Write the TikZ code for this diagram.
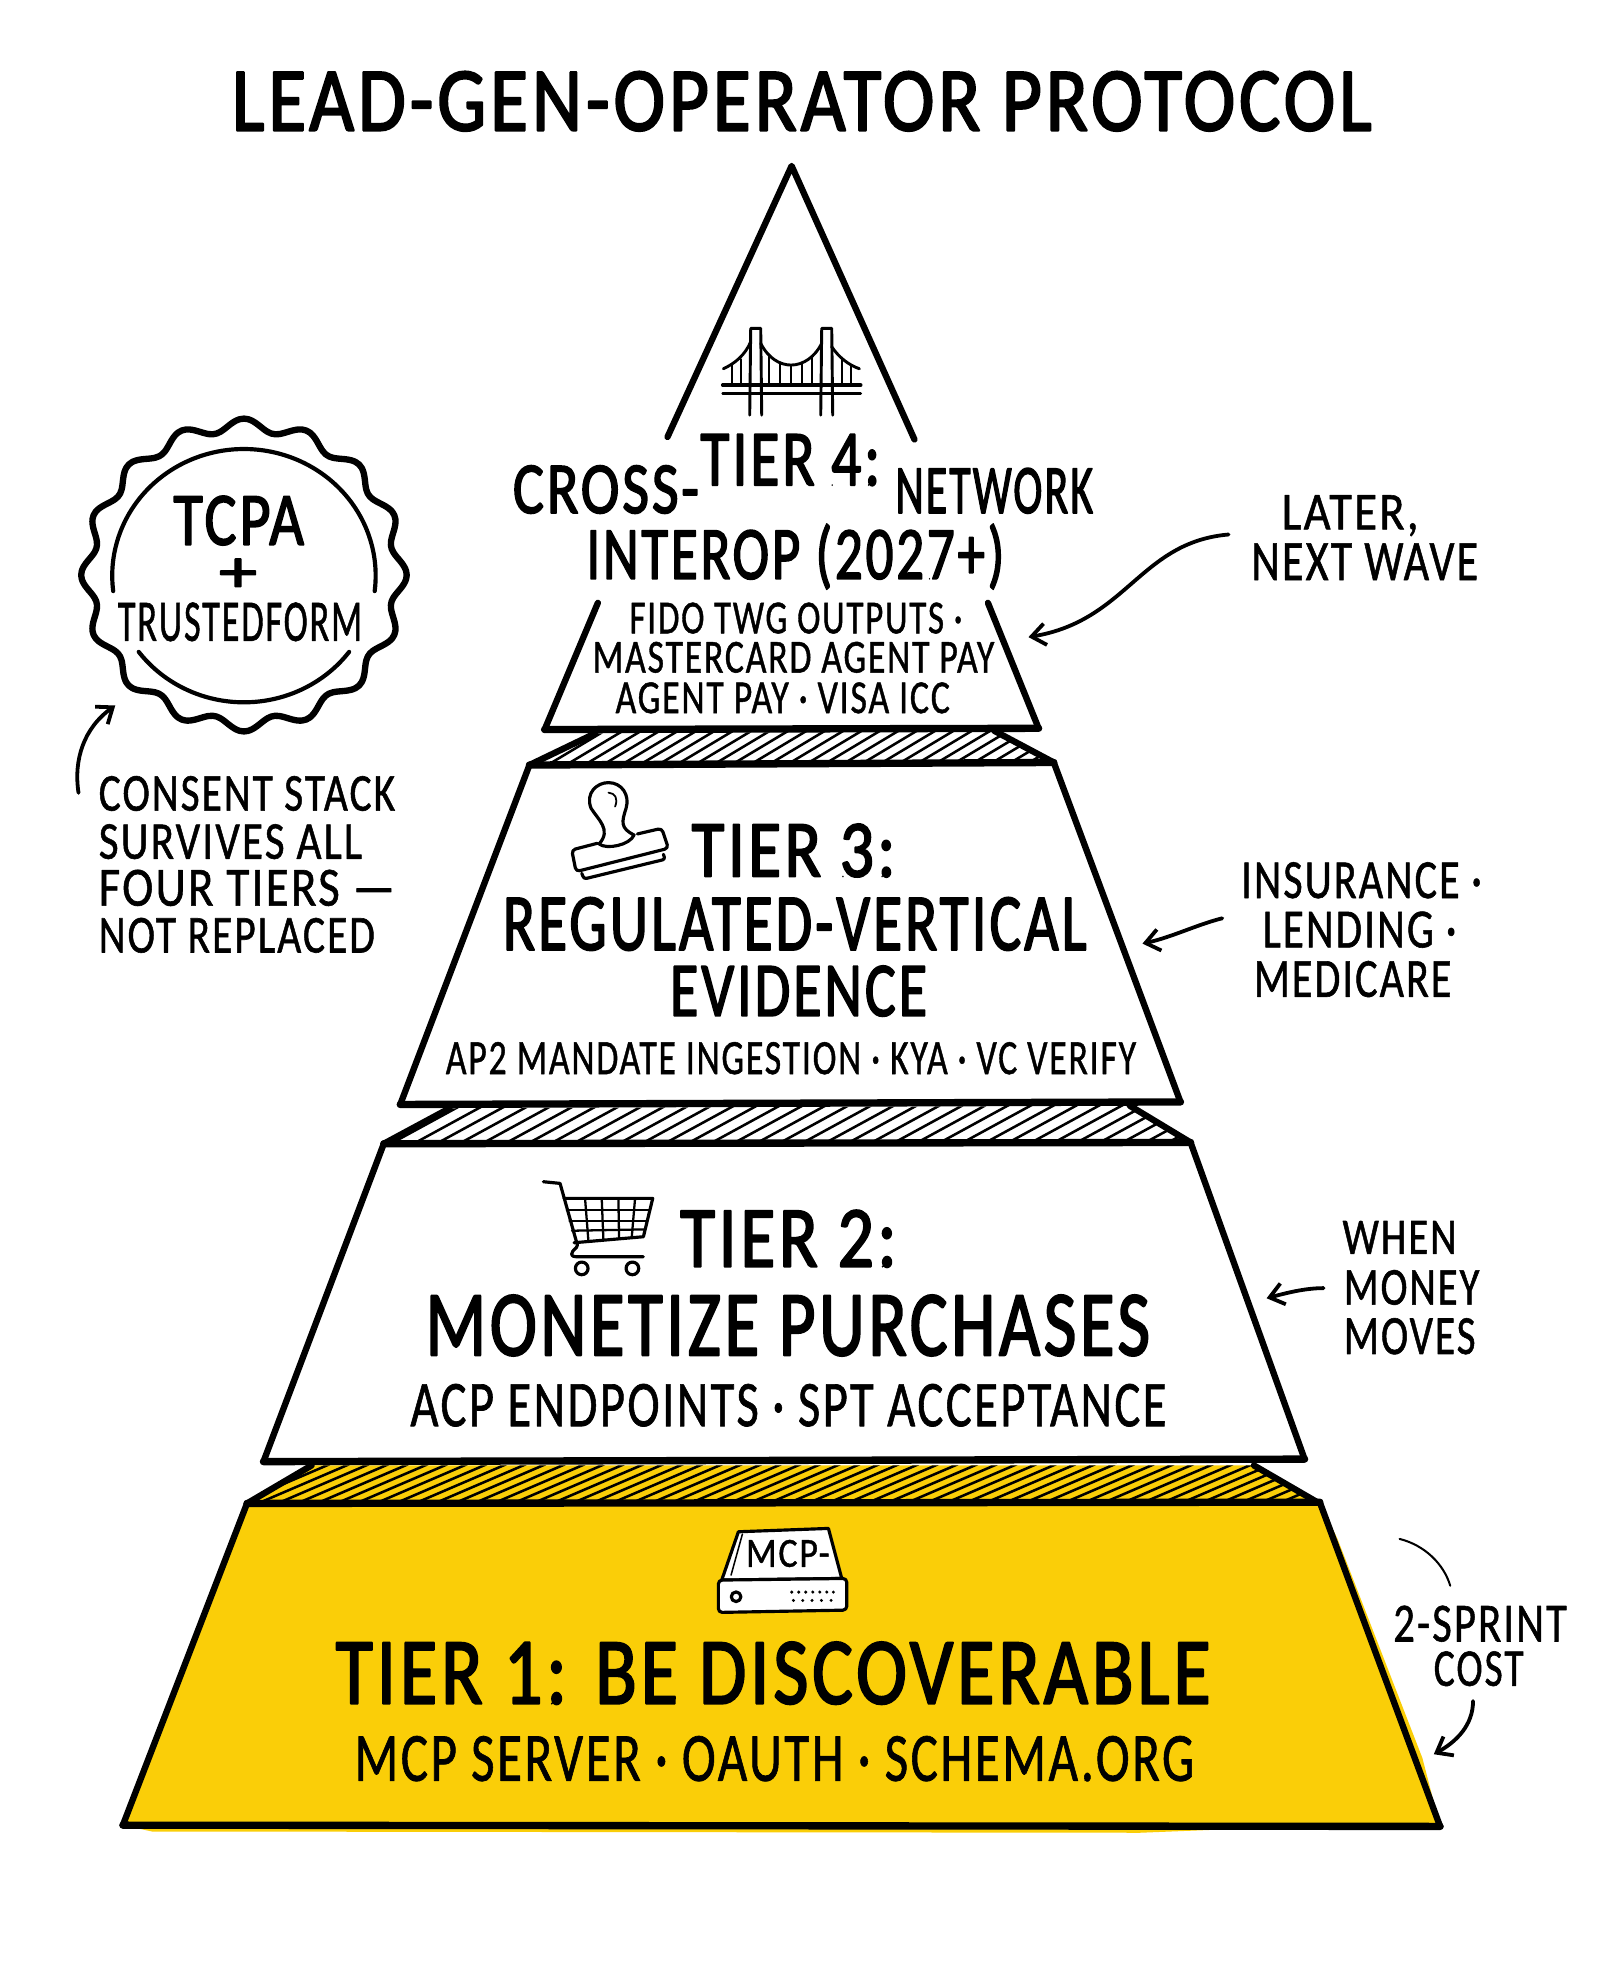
\documentclass[tikz,border=0pt]{standalone}
\usepackage{fontspec}
\usepackage{graphicx}
\usetikzlibrary{arrows.meta}
\newfontfamily\hfont{Carlito}[FakeBold=2.4,LetterSpace=5]
\newfontfamily\sfont{Carlito}[FakeBold=1.1,LetterSpace=5]
\definecolor{tieryellow}{HTML}{FACE08}
\tikzset{
 txt/.style={inner sep=0pt,outer sep=0pt,text=black},
 edge/.style={draw=black,line width=5pt,line join=round,line cap=round},
 base/.style={draw=black,line width=5.8pt,line cap=round},
 hatchline/.style={draw=black,line width=2pt},
 icon/.style={draw=black,line width=2.5pt,line join=round,line cap=round},
 callout/.style={draw=black,line width=3pt,line cap=round,-{Straight Barb[length=11pt,width=17pt,line width=3pt]}},
 plainline/.style={draw=black,line width=1.6pt,line cap=round},
 sealline/.style={draw=black,line width=3.3pt,line cap=round},
}
\newcommand\lab[7]{% name,x1,x2,y1,y2,font,text
 \pgfmathsetmacro\cxx{(#2+#3)/2}\pgfmathsetmacro\cyy{(#4+#5)/2}%
 \pgfmathsetmacro\wwd{#3-#2}\pgfmathsetmacro\hhd{#5-#4}%
 \node[txt] (#1) at (\cxx,\cyy) {\special{pdf:code 1 j 1 J}\resizebox{\wwd pt}{\hhd pt}{\fontsize{30}{36}#6\selectfont\sbox0{H}\raisebox{0pt}[\ht0][0pt]{#7}}};}
\begin{document}
\begin{tikzpicture}[x=1pt,y=-1pt]
\useasboundingbox (0,0) rectangle (1263.2,1568);
\fill[white] (0,0) rectangle (1263.2,1568);

% title
\lab{title}{183}{1083}{57}{103}{\hfont}{LEAD-GEN-OPERATOR PROTOCOL}

% ---- hatched bands
\begin{scope}
 \clip (470,579) -- (785,577) -- (832,602) -- (418,604) -- cycle;
 \foreach \i in {0,...,34} {\draw[hatchline] ({400+14.5*\i},606) -- ({450+14.5*\i},576);}
\end{scope}
\draw[edge] (470,579) -- (418,604);
\draw[edge] (785,577) -- (832,602);
\begin{scope}
 \clip (355,875) -- (892,873) -- (940,902) -- (303,903) -- cycle;
 \foreach \i in {0,...,50} {\draw[hatchline] ({285+18*\i},906) -- ({351+18*\i},870);}
\end{scope}
\draw[edge] (355,875) -- (303,903);
\draw[edge] (892,873) -- (940,902);
\fill[tieryellow] (246,1157) -- (990,1157) -- (1040,1186) -- (195,1187) -- cycle;
\begin{scope}
 \clip (246,1157) -- (990,1157) -- (1040,1186) -- (195,1187) -- cycle;
 \foreach \i in {0,...,70} {\draw[hatchline] ({150+15.5*\i},1190) -- ({234+15.5*\i},1154);}
\end{scope}
\draw[edge] (246,1157) -- (195,1187);
\draw[edge] (990,1157) -- (1040,1186);

% ---- tier 4
\coordinate (apex) at (625,131);
\coordinate (t4l) at (527,345);
\coordinate (t4r) at (722,347);
\coordinate (t4bl) at (430,576);
\coordinate (t4br) at (820,575);
\coordinate (t4ml) at (472,476);
\coordinate (t4mr) at (780,476);
\draw[edge] (t4l) -- (apex) -- (t4r);
\draw[edge] (t4ml) -- (t4bl);
\draw[edge] (t4mr) -- (t4br);
\draw[base] (t4bl) -- (t4br);
\lab{t4a}{553}{695}{343}{383}{\hfont}{TIER 4:}
\lab{t4b}{405}{552}{368}{405}{\hfont}{CROSS-}
\lab{t4c}{707}{863}{370}{405}{\hfont}{NETWORK}
\lab{t4d}{463}{793}{419}{457}{\hfont}{INTEROP (2027+)}
\lab{t4e}{497}{760}{476}{500}{\sfont}{FIDO TWG OUTPUTS ·}
\lab{t4f}{468}{785}{507}{531}{\sfont}{MASTERCARD AGENT PAY}
\lab{t4g}{486}{750}{539}{563}{\sfont}{AGENT PAY · VISA ICC}

% bridge
\begin{scope}[shift={(552.7,244.8)},x=.2632pt,y=-.2632pt,icon,line width=2.3pt]
 \foreach \tx in {152,365} {
  \draw (\tx-3,315) -- (\tx,55) -- (\tx+30,55) -- (\tx+33,315);
 }
 \draw (182,100) .. controls (205,145) and (240,165) .. (273,165) .. controls (310,165) and (345,140) .. (365,100);
 \draw (152,95) .. controls (135,135) and (105,160) .. (70,176);
 \draw (395,110) .. controls (415,140) and (445,165) .. (478,176);
 \draw[line width=2.8pt] (68,225) -- (482,225);
 \draw (68,251) -- (482,251);
 \foreach \hx/\hy in {95/165,122/148,207/140,240/158,272/165,305/158,335/143,425/148,452/165} {
  \draw[line width=1.9pt] (\hx,\hy) -- (\hx,225);
 }
\end{scope}

% ---- tier 3
\coordinate (t3a) at (418,604);
\coordinate (t3b) at (832,602);
\coordinate (t3c) at (932,870);
\coordinate (t3d) at (316,872);
\draw[edge] (t3a) -- (t3d);
\draw[edge] (t3b) -- (t3c);
\draw[base] (t3a) -- (t3b);
\draw[base] (t3d) -- (t3c);
\lab{t3t}{546}{707}{651}{692}{\hfont}{TIER 3:}
\lab{t3u}{397}{858}{709}{750}{\hfont}{REGULATED-VERTICAL}
\lab{t3v}{529}{732}{763}{802}{\hfont}{EVIDENCE}
\lab{t3w}{352}{897}{823}{848}{\sfont}{AP2 MANDATE INGESTION · KYA · VC VERIFY}
% stamp
\begin{scope}[shift={(410.6,584.2)},x=.2632pt,y=-.2632pt,icon]
 \draw (237,312) .. controls (275,270) and (235,240) .. (213,205) .. controls (195,160) and (230,128) .. (265,128) .. controls (305,128) and (330,165) .. (318,205) .. controls (305,245) and (300,265) .. (342,285) .. controls (330,315) and (260,330) .. (237,312);
 \draw[line width=1.4pt] (265,158) .. controls (285,160) and (295,175) .. (285,200);
 \draw[rounded corners=3pt] (232,310) -- (155,330) -- (168,395) -- (445,325) -- (425,265) -- (352,282);
 \draw[rounded corners=2pt] (185,400) -- (192,417) -- (435,358) -- (430,343);
\end{scope}

% ---- tier 2
\coordinate (t2a) at (303,903);
\coordinate (t2b) at (940,902);
\coordinate (t2c) at (1030,1152);
\coordinate (t2d) at (208,1154);
\draw[edge] (t2a) -- (t2d);
\draw[edge] (t2b) -- (t2c);
\draw[base] (t2a) -- (t2b);
\draw[base] (t2d) -- (t2c);
\lab{t2t}{537}{708}{956}{1000}{\hfont}{TIER 2:}
\lab{t2u}{336}{908}{1023}{1070}{\hfont}{MONETIZE PURCHASES}
\lab{t2v}{324}{921}{1093}{1126}{\sfont}{ACP ENDPOINTS · SPT ACCEPTANCE}
% cart
\begin{scope}[shift={(394.8,892.2)},x=.2632pt,y=-.2632pt,icon]
 \draw (130,155) -- (180,160) -- (232,345) .. controls (232,355) and (215,360) .. (215,372) .. controls (215,380) and (225,380) .. (235,380) -- (430,380);
 \draw (192,205) -- (458,205) -- (430,320) -- (222,338);
 \draw[line width=1.8pt] (255,205) -- (265,332);
 \draw[line width=1.8pt] (305,205) -- (310,328);
 \draw[line width=1.8pt] (355,205) -- (357,325);
 \draw[line width=1.8pt] (405,205) -- (395,322);
 \draw[line width=1.8pt] (200,240) -- (450,240);
 \draw[line width=1.8pt] (208,272) -- (442,272);
 \draw[line width=1.8pt] (216,302) -- (435,298);
 \draw (245,415) circle[radius=5pt];
 \draw (397,415) circle[radius=5pt];
\end{scope}

% ---- tier 1
\coordinate (t1a) at (195,1187);
\coordinate (t1b) at (1042,1186);
\coordinate (t1c) at (1137,1442);
\coordinate (t1d) at (97,1441);
\fill[tieryellow] (t1a) -- (t1b) -- (1056,1215) -- (1123,1388) -- (t1c) -- (1000,1443) -- (900,1447) -- (120,1446) -- (t1d) -- cycle;
\draw[edge] (t1a) -- (t1d);
\draw[edge] (t1b) -- (t1c);
\draw[base] (t1a) -- (t1b);
\draw[base] (t1d) -- (t1c);
\lab{t1t}{265}{956}{1297}{1345}{\hfont}{TIER 1: BE DISCOVERABLE}
\lab{t1u}{280}{943}{1371}{1406}{\sfont}{MCP SERVER · OAUTH · SCHEMA.ORG}
% MCP server icon
\begin{scope}[shift={(394.8,892.2)},x=.2632pt,y=-.2632pt,icon]
 \draw[fill=white] (665,1350) -- (715,1205) -- (985,1195) -- (1025,1345) -- cycle;
 \draw[line width=1.2pt] (693,1335) -- (727,1212);
 \draw[fill=white,rounded corners=3pt] (655,1350) -- (1040,1345) -- (1040,1440) -- (655,1447) -- cycle;
 \draw (708,1400) circle[radius=3.8pt];
 \foreach \dx in {875,896,917,938,959,980,1000} {\fill (\dx,1386) circle[radius=1.3pt];}
 \foreach \dx in {880,908,936,964,993} {\fill (\dx,1411) circle[radius=1.3pt];}
\end{scope}
\lab{mcp}{589}{655}{1216}{1237}{\sfont}{MCP-}

% ---- seal
\coordinate (sealc) at (192.6,454);
\draw[draw=black,line width=5pt,line join=round]
  plot[domain=0:360,samples=241,smooth] ({192.6+(123.5+5*cos(16*\x))*cos(\x)},{454+(118.5+5*cos(16*\x))*sin(\x)}) -- cycle;
\draw[sealline] plot[domain=173:367,samples=70,smooth] ({192.6+104*cos(\x)},{454.5+100*sin(\x)});
\draw[sealline] plot[domain=37:143,samples=40,smooth] ({192.6+104*cos(\x)},{454.5+100*sin(\x)});
\lab{tcpa}{137}{240}{392}{430}{\hfont}{TCPA}
\lab{plus}{173}{203}{437}{467}{\hfont}{+}
\lab{tf}{93}{286}{476}{506}{\sfont}{TRUSTEDFORM}

% ---- left note
\lab{n1}{78}{312}{613}{640}{\sfont}{CONSENT STACK}
\lab{n2}{78}{286}{651}{678}{\sfont}{SURVIVES ALL}
\lab{n3}{78}{312}{687}{715}{\sfont}{FOUR TIERS —}
\lab{n4}{78}{296}{725}{752}{\sfont}{NOT REPLACED}
\coordinate (na) at (62,626);
\coordinate (nb) at (91,557);
\draw[callout] (na) .. controls (58,600) and (66,575) .. (nb);

% ---- right notes
\lab{r1a}{1012}{1120}{391}{418}{\sfont}{LATER,}
\lab{r1b}{988}{1167}{429}{458}{\sfont}{NEXT WAVE}
\coordinate (r1s) at (970,422);
\coordinate (r1e) at (812,503);
\draw[callout] (r1s) .. controls (900,428) and (890,490) .. (r1e);

\lab{r2a}{980}{1170}{681}{709}{\sfont}{INSURANCE ·}
\lab{r2b}{997}{1150}{720}{748}{\sfont}{LENDING ·}
\lab{r2c}{990}{1146}{759}{787}{\sfont}{MEDICARE}
\coordinate (r2s) at (965,725);
\coordinate (r2e) at (902,745);
\draw[callout] (r2s) .. controls (945,730) and (925,740) .. (r2e);

\lab{r3a}{1060}{1150}{964}{990}{\sfont}{WHEN}
\lab{r3b}{1061}{1168}{1003}{1030}{\sfont}{MONEY}
\lab{r3c}{1061}{1165}{1041}{1069}{\sfont}{MOVES}
\coordinate (r3s) at (1045,1017);
\coordinate (r3e) at (1000,1025);
\draw[callout] (r3s) .. controls (1030,1017) and (1015,1021) .. (r3e);

\lab{r4a}{1100}{1237}{1268}{1296}{\sfont}{2-SPRINT}
\lab{r4b}{1132}{1203}{1304}{1331}{\sfont}{COST}
\coordinate (r4s) at (1105,1215);
\coordinate (r4t) at (1145,1252);
\draw[plainline] (r4s) .. controls (1125,1220) and (1140,1235) .. (r4t);
\coordinate (r4u) at (1163,1343);
\coordinate (r4e) at (1132,1385);
\draw[callout] (r4u) .. controls (1163,1362) and (1150,1375) .. (r4e);
\end{tikzpicture}
\end{document}
